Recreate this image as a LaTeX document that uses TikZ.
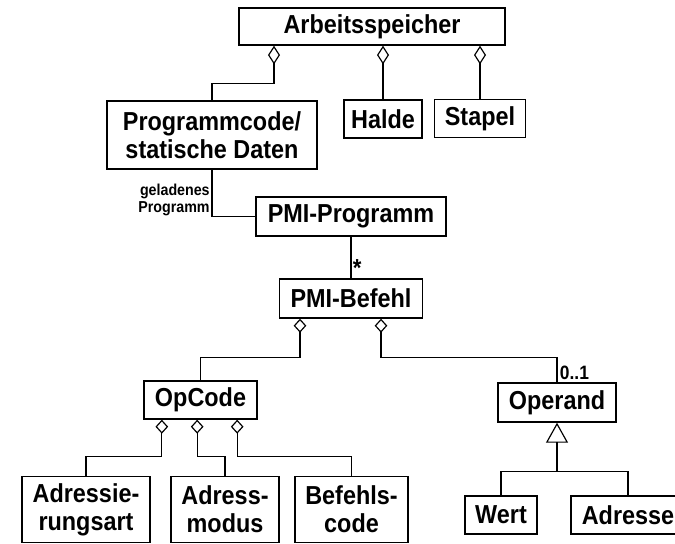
\documentclass[tikz,border=0pt]{standalone}
\usepackage{fontspec}
\setmainfont[FakeStretch=0.9]{Liberation Sans}
\usetikzlibrary{arrows.meta,calc}

\begin{document}
\begin{tikzpicture}[x=0.03cm,y=-0.03cm,
  klasse/.style={draw,line width=1.2pt,inner sep=0pt,align=center,font=\fontsize{22.2}{24}\selectfont\bfseries},
  linie/.style={line width=1pt},
  agg/.style={line width=1pt,{Diamond[open,length=0.56cm,width=0.36cm]}-},
  aggk/.style={line width=1pt,{Diamond[open,length=0.42cm,width=0.38cm]}-},
  rolle/.style={font=\fontsize{13.5}{14.5}\selectfont\bfseries,align=right,inner sep=1.5pt},
  mult/.style={font=\fontsize{16.5}{18}\selectfont\bfseries,inner sep=2pt}]

\useasboundingbox (0,0) rectangle (675,544);

\node[klasse,minimum width=7.98cm,minimum height=1.11cm] (arb) at (372,26.5) {Arbeitsspeicher};

\node[klasse,minimum width=6.3cm,minimum height=2.04cm] (prog) at (212,135) {Programmcode/\\statische Daten};
\node[klasse,minimum width=2.34cm,minimum height=1.14cm] (halde) at (383,119) {Halde};
\node[klasse,minimum width=2.73cm,minimum height=1.14cm] (stapel) at (480,118.5) {Stapel};

\node[klasse,minimum width=5.7cm,minimum height=1.17cm] (pmiprog) at (351,216.5) {PMI-Programm};
\node[klasse,minimum width=4.29cm,minimum height=1.17cm] (pmibef) at (351,298.5) {PMI-Befehl};

\node[klasse,minimum width=3.39cm,minimum height=1.14cm] (opcode) at (200.5,400) {OpCode};
\node[klasse,minimum width=3.54cm,minimum height=1.17cm] (operand) at (557,402.5) {Operand};

\node[klasse,minimum width=3.84cm,minimum height=1.98cm] (adrart) at (86,509.5) {Adressie-\\rungsart};
\node[klasse,minimum width=3.24cm,minimum height=1.98cm] (adrmod) at (225,509.5) {Adress-\\modus};
\node[klasse,minimum width=3.39cm,minimum height=1.98cm] (befcode) at (351.5,509.5) {Befehls-\\code};

\node[klasse,minimum width=2.16cm,minimum height=1.14cm] (wert) at (501,515) {Wert};
\node[klasse,minimum width=3.42cm,minimum height=1.14cm] (adresse) at (628,515) {Adresse};

% Arbeitsspeicher
\draw[agg] ([xshift=-2.94cm]arb.south) -- ++(0,38) -| (prog.north);
\draw[agg] (arb.south -| halde) -- (halde);
\draw[agg] (arb.south -| stapel) -- (stapel);

\draw[linie] (prog.south) |- node[rolle,pos=0.32,anchor=east] {geladenes\\Programm} (pmiprog.west);
\draw[linie] (pmiprog) -- node[mult,font=\fontsize{21}{22}\selectfont\bfseries,pos=1,anchor=south west,inner sep=1pt] {*} (pmibef);

% PMI-Befehl
\draw[aggk] ([xshift=-1.53cm]pmibef.south) -- ++(0,39) -| (opcode.north);
\draw[aggk] ([xshift=0.9cm]pmibef.south) -- ++(0,39) -| node[mult,pos=1,anchor=south west] {0..1} (operand.north);

% OpCode
\draw[aggk] ([xshift=-1.16cm]opcode.south) -- ++(0,37) -| (adrart.north);
\draw[aggk] ([xshift=-0.1cm]opcode.south) -- ++(0,37) -| (adrmod.north);
\draw[aggk] ([xshift=1.1cm]opcode.south) -- ++(0,37) -| (befcode.north);

% Operand
\coordinate (gk) at ($(operand.south)+(0,49)$);
\draw[line width=2pt,-{Triangle[open,length=0.6cm,width=0.66cm,line width=1pt]}] (gk) -- (operand.south);
\draw[linie] (wert.north) |- (gk) -| (adresse.north);

\end{tikzpicture}
\end{document}
